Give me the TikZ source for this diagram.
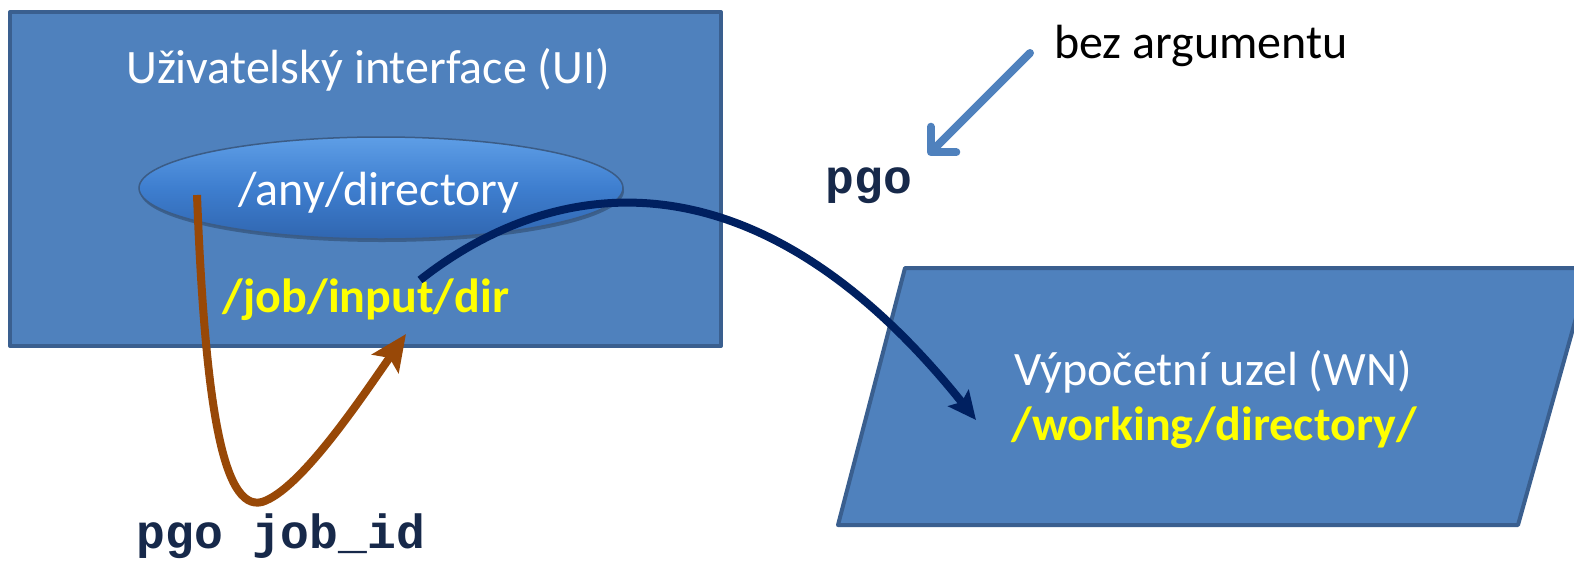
\documentclass[tikz,border=0pt]{standalone}
\usepackage{fontspec}
\setmainfont{Carlito}
\newfontfamily\codefont{Liberation Mono}
\usetikzlibrary{arrows.meta}
\definecolor{boxfill}{HTML}{4F81BD}
\definecolor{boxedge}{HTML}{3A5F8F}
\definecolor{navy}{HTML}{002060}
\definecolor{brownarr}{HTML}{984807}
\definecolor{codecol}{HTML}{17294A}
\definecolor{ylw}{HTML}{FFFF00}
\definecolor{elltop}{HTML}{5E9EE6}
\definecolor{ellmid}{HTML}{3E7ECF}
\definecolor{ellbot}{HTML}{3066B0}
\definecolor{elledge}{HTML}{3B5C86}
\begin{document}
\begin{tikzpicture}[x=1pt,y=-1pt,
  panel/.style={draw=boxedge,fill=boxfill,line width=4pt,line join=round},
  bigtext/.style={font=\fontsize{48}{54}\selectfont,inner sep=0pt,anchor=base},
  boldtext/.style={font=\bfseries\fontsize{48}{54}\selectfont,inner sep=0pt,anchor=base,text=ylw},
  codetext/.style={font=\codefont\bfseries\fontsize{48}{54}\selectfont,text=codecol,inner sep=0pt,anchor=base},
  ]
\useasboundingbox (0,0) rectangle (1574,563);
\begin{scope}
\clip (0,0) rectangle (1574,563);
% UI box
\draw[panel] (10,12) rectangle (721,346);
\node[bigtext,text=white] (uititle) at (368,83) {Uživatelský interface (UI)};
% ellipse
\fill[black,opacity=0.25] (382,191) ellipse (242 and 51);
\shade[top color=elltop,bottom color=ellbot,middle color=ellmid,draw=elledge,line width=1.5pt] (381,188) ellipse (242 and 51);
\node[bigtext,text=white] (anydir) at (379,205) {/any/directory};
\node[boldtext] (jobdir) at (366,312) {/job/input/dir};
% WN parallelogram
\draw[panel] (905,268) -- (1590,268) -- (1518,525) -- (838,525) -- cycle;
\node[bigtext,text=white] (wntitle) at (1213,385) {Výpočetní uzel (WN)};
\node[boldtext] (workdir) at (1214,440) {/working/directory/};
\end{scope}
% labels
\node[bigtext,text=black] (bez) at (1201,58) {bez argumentu};
\node[codetext] (pgo) at (869,193) {pgo};
\node[codetext] (pgojob) at (281,548) {pgo job\_id};
% connectors
\coordinate (bstart) at (1030,53);
\coordinate (bend) at (928,155);
\draw[boxfill,line width=8pt,line cap=round,-{Straight Barb[length=18pt,width=36pt,line cap=round,line join=round]}] (bstart) -- (bend);
\coordinate (nstart) at (420,280);
\coordinate (nend) at (976,420);
\draw[navy,line width=8pt,-{Stealth[length=28pt,width=26pt,inset=5pt]}] (nstart) .. controls (560,170) and (760,150) .. (nend);
\coordinate (rstart) at (197,195);
\coordinate (rbot) at (262,502);
\coordinate (rend) at (406,334);
\draw[brownarr,line width=8pt,-{Stealth[length=36pt,width=32pt,inset=7pt]}] (rstart) .. controls (205,400) and (222,512) .. (rbot) .. controls (300,490) and (360,400) .. (rend);
\end{tikzpicture}
\end{document}
